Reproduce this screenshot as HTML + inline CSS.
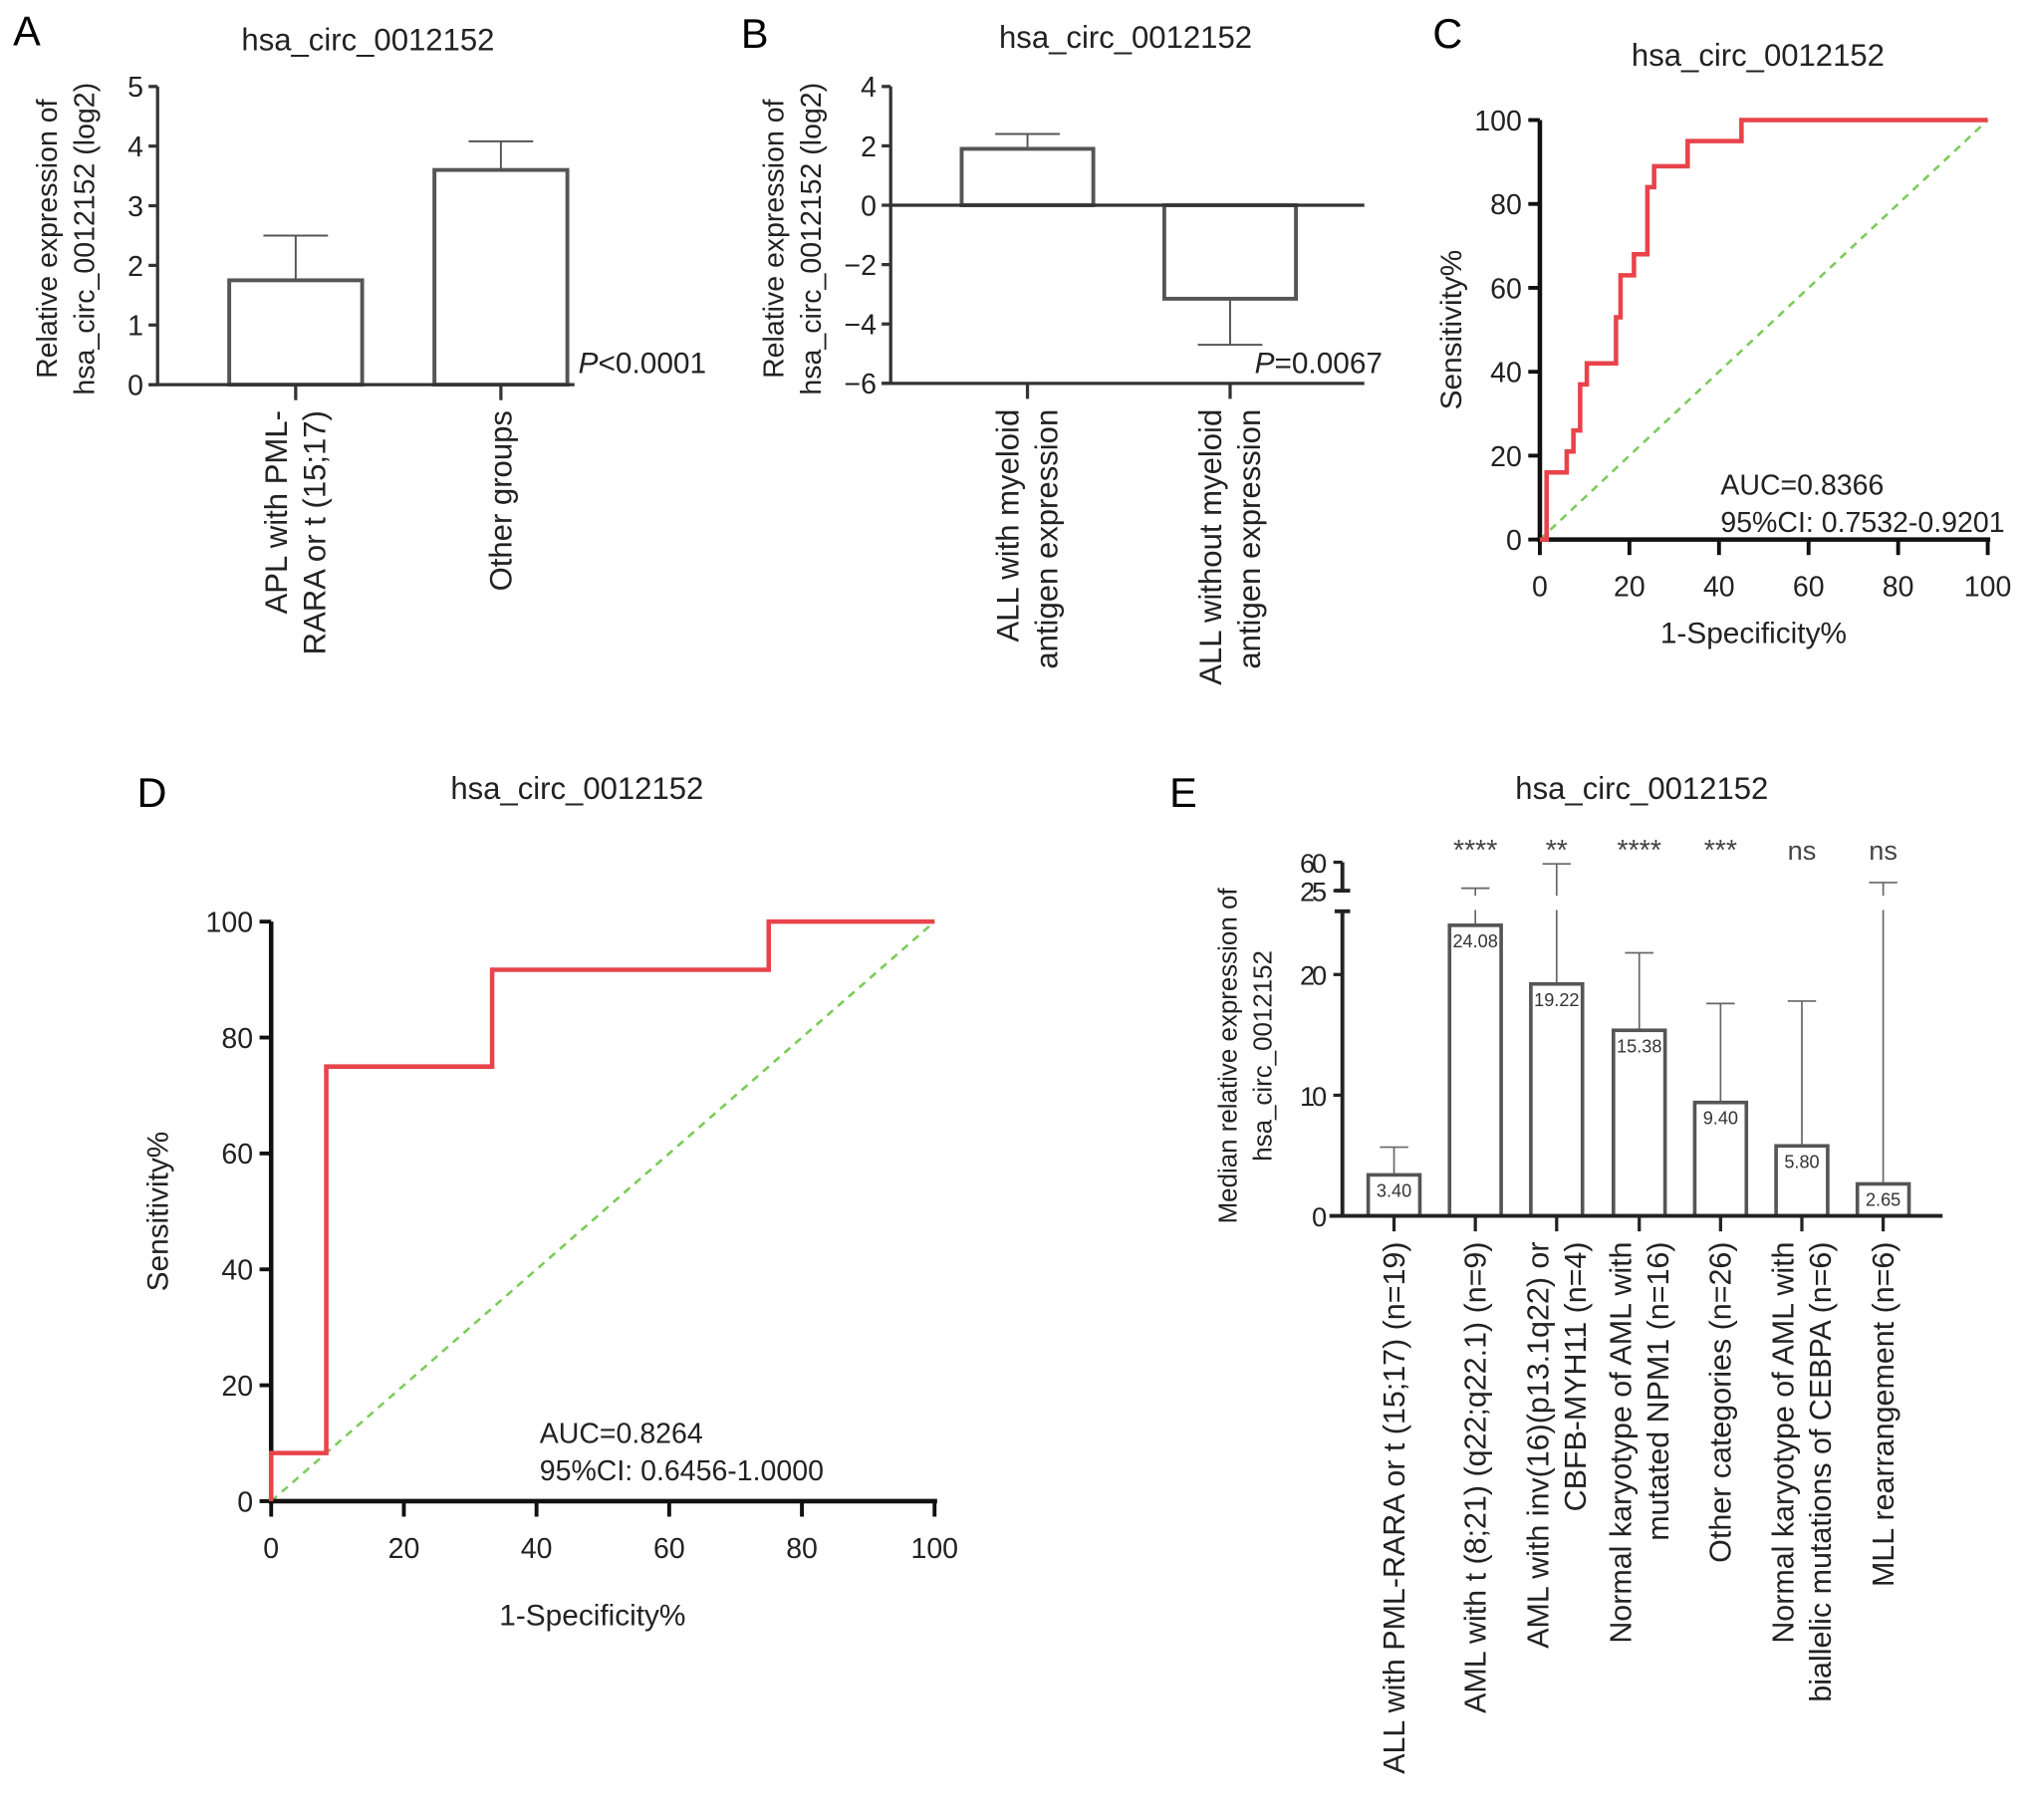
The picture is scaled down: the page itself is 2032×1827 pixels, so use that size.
<!DOCTYPE html>
<html><head><meta charset="utf-8">
<style>
html,body{margin:0;padding:0;background:#fff;}
svg{display:block;font-family:"Liberation Sans",Arial,sans-serif;}
</style></head>
<body>
<svg id="fig" width="2032" height="1827" viewBox="0 0 1568 1410" xmlns="http://www.w3.org/2000/svg"></svg>
<script>
// ---------- Data ----------
const aCategories = [["APL with PML-","RARA or t (15;17)"],["Other groups"]];
const aValues = [1.75, 3.6];
const aErrors = [2.5, 4.08];
const aTicks = [0,1,2,3,4,5];

const bCategories = [["ALL with myeloid","antigen expression"],["ALL without myeloid","antigen expression"]];
const bValues = [1.9, -3.15];
const bErrors = [2.4, -4.7];
const bTicks = [4,2,0,-2,-4,-6];
const bTickLabels = ["4","2","0","\u22122","\u22124","\u22126"];

const cRocX = [0,1.5,1.5,6,6,7.5,7.5,9,9,10.5,10.5,17,17,18,18,21,21,24,24,25.5,25.5,33,33,45,45,100];
const cRocY = [0,0,16,16,21,21,26,26,37,37,42,42,53,53,63,63,68,68,84,84,89,89,95,95,100,100];
const rocTicks = [0,20,40,60,80,100];

const dRocX = [0,0,8.3,8.3,33.3,33.3,75,75,100];
const dRocY = [0,8.3,8.3,75,75,91.7,91.7,100,100];

const eCategories = [
  ["ALL with PML-RARA or t (15;17) (n=19)"],
  ["AML with t (8;21) (q22;q22.1) (n=9)"],
  ["AML with inv(16)(p13.1q22) or","CBFB-MYH11 (n=4)"],
  ["Normal karyotype of AML with","mutated NPM1 (n=16)"],
  ["Other categories (n=26)"],
  ["Normal karyotype of AML with","biallelic mutations of CEBPA (n=6)"],
  ["MLL rearrangement (n=6)"]];
const eValues = [3.40, 24.08, 19.22, 15.38, 9.40, 5.80, 2.65];
const eLabels = ["3.40","24.08","19.22","15.38","9.40","5.80","2.65"];
const eErrors = [5.7, 28, 58, 21.8, 17.6, 17.8, 35];
const eSig = ["", "****", "**", "****", "***", "ns", "ns"];
const eTicksLow = [0,10,20];
const eTicksHigh = [25,60];

// ---------- helpers ----------
const NS="http://www.w3.org/2000/svg";
const svg=document.getElementById('fig');
function el(tag, attrs, parent){
  const e=document.createElementNS(NS,tag);
  for(const k in attrs) e.setAttribute(k,attrs[k]);
  (parent||svg).appendChild(e); return e;
}
function txt(s, attrs, parent){ const t=el('text',attrs,parent); t.textContent=s; return t; }
function line(x1,y1,x2,y2,stroke,w,parent){ return el('line',{x1,y1,x2,y2,stroke,'stroke-width':w},parent); }
function group(name){ const g=el('g',{});   return g; }

// ---------- Panel A ----------
(function(){
  const g=group('panel-a');
  const yA=v=>298-(v/5)*231;
  const bx=[229,388], bw=103;
  const L=txt('A',{x:10,y:35,'font-size':32},g);  
  const T=txt('hsa_circ_0012152',{x:285,y:39,'font-size':24,'text-anchor':'middle',fill:'#222'},g);  
  aValues.forEach((v,i)=>{
    const eb=line(bx[i],yA(v),bx[i],yA(aErrors[i]),'#555',1.5,g);  
    line(bx[i]-25,yA(aErrors[i]),bx[i]+25,yA(aErrors[i]),'#555',1.5,g);
    const r=el('rect',{x:bx[i]-bw/2,y:yA(v),width:bw,height:yA(0)-yA(v),fill:'#fff',stroke:'#555','stroke-width':3},g);
     
    line(bx[i],298,bx[i],310,'#333',2.5,g);
    aCategories[i].forEach((s,j)=>{
      const n=aCategories[i].length, x=bx[i]-(n-1)*15+j*30+8;
      const t=txt(s,{x:0,y:0,'font-size':24,'text-anchor':'end',fill:'#222',transform:`translate(${x},318) rotate(-90)`},g);
       
    });
  });
  line(122,67,122,299,'#333',2.5,g);
  line(115,298,445,298,'#333',2.5,g);
  aTicks.forEach(v=>{ line(115,yA(v),122,yA(v),'#333',2.5,g);
    const t=txt(String(v),{x:111,y:yA(v)+8,'font-size':22,'text-anchor':'end',fill:'#222'},g);  });
  const yl=txt('Relative expression of',{x:0,y:0,'font-size':22,'text-anchor':'middle',fill:'#222',transform:'translate(44,185) rotate(-90)'},g);
   
  txt('hsa_circ_0012152 (log2)',{x:0,y:0,'font-size':22,'text-anchor':'middle',fill:'#222',transform:'translate(73,185) rotate(-90)'},g);
  const p=el('text',{x:448,y:289,'font-size':23,fill:'#222'},g); p.innerHTML='<tspan font-style="italic">P</tspan>&lt;0.0001';
   
})();

// ---------- Panel B ----------
(function(){
  const g=group('panel-b');
  const yB=v=>159-v*23;
  const bx=[796,953], bw=102;
  const L=txt('B',{x:574,y:37,'font-size':32},g);  
  const T=txt('hsa_circ_0012152',{x:872,y:37,'font-size':24,'text-anchor':'middle',fill:'#222'},g);  
  bValues.forEach((v,i)=>{
    const eb=line(bx[i],yB(v),bx[i],yB(bErrors[i]),'#555',1.5,g);  
    line(bx[i]-25,yB(bErrors[i]),bx[i]+25,yB(bErrors[i]),'#555',1.5,g);
    const top=Math.min(yB(v),yB(0)), h=Math.abs(yB(v)-yB(0));
    const r=el('rect',{x:bx[i]-bw/2,y:top,width:bw,height:h,fill:'#fff',stroke:'#555','stroke-width':3},g);
     
    line(bx[i],297,bx[i],309,'#333',2.5,g);
    bCategories[i].forEach((s,j)=>{
      const x=bx[i]-15+j*30+8;
      const t=txt(s,{x:0,y:0,'font-size':24,'text-anchor':'end',fill:'#222',transform:`translate(${x},317) rotate(-90)`},g);
       
    });
  });
  line(690,67,690,298,'#333',2.5,g);
  line(690,159,1057,159,'#333',2.5,g);
  line(683,297,1057,297,'#333',2.5,g);
  bTicks.forEach((v,i)=>{ line(683,yB(v),690,yB(v),'#333',2.5,g);
    const t=txt(bTickLabels[i],{x:679,y:yB(v)+8,'font-size':22,'text-anchor':'end',fill:'#222'},g);  });
  const yl=txt('Relative expression of',{x:0,y:0,'font-size':22,'text-anchor':'middle',fill:'#222',transform:'translate(607,185) rotate(-90)'},g);
   
  txt('hsa_circ_0012152 (log2)',{x:0,y:0,'font-size':22,'text-anchor':'middle',fill:'#222',transform:'translate(636,185) rotate(-90)'},g);
  const p=el('text',{x:972,y:289,'font-size':23,fill:'#222'},g); p.innerHTML='<tspan font-style="italic">P</tspan>=0.0067';
   
})();

// ---------- ROC panels ----------
function roc(name, letter, lx, ly, x0, x1, y0, y1, xs, ys, title, tx, ty, auc, ax, ay, fs, xlab, ylabX){
  const g=group(name);
  const X=v=>x0+(x1-x0)*v/100, Y=v=>y0-(y0-y1)*v/100;
  const L=txt(letter,{x:lx,y:ly,'font-size':32},g);  
  const T=txt(title,{x:tx,y:ty,'font-size':24,'text-anchor':'middle',fill:'#222'},g);  
  const ref=line(X(0),Y(0),X(100),Y(100),'#7ccb5a',2,g); ref.setAttribute('stroke-dasharray','6,5');
   
  line(x0,y1,x0,y0+2,'#111',3.5,g);
  line(x0-2,y0,x1+2,y0,'#111',3.5,g);
  rocTicks.forEach(v=>{
    line(x0-9,Y(v),x0,Y(v),'#111',3,g); line(X(v),y0,X(v),y0+12,'#111',3,g);
    const a=txt(String(v),{x:x0-14,y:Y(v)+8,'font-size':fs,'text-anchor':'end',fill:'#222'},g);  
    const b=txt(String(v),{x:X(v),y:y0+44,'font-size':fs,'text-anchor':'middle',fill:'#222'},g);  
  });
  const pts=xs.map((x,i)=>X(x).toFixed(1)+','+Y(ys[i]).toFixed(1)).join(' ');
  const pl=el('polyline',{points:pts,fill:'none',stroke:'#e8434a','stroke-width':3.5},g);
   
  const xl=txt('1-Specificity%',{x:(x0+x1)/2-8,y:y0+xlab,'font-size':23,'text-anchor':'middle',fill:'#222'},g);  
  const yl=txt('Sensitivity%',{x:0,y:0,'font-size':23,'text-anchor':'middle',fill:'#222',transform:`translate(${ylabX},${(y0+y1)/2}) rotate(-90)`},g);  
  const a1=txt(auc[0],{x:ax,y:ay,'font-size':22,fill:'#222'},g);  
  const a2=txt(auc[1],{x:ax,y:ay+29,'font-size':22,fill:'#222'},g);  
}
roc('panel-c','C',1110,37,1193,1540,418,93,cRocX,cRocY,'hsa_circ_0012152',1362,51,['AUC=0.8366','95%CI: 0.7532-0.9201'],1333,383,22,80,1132);
roc('panel-d','D',106,625,210,724,1163,714,dRocX,dRocY,'hsa_circ_0012152',447,619,['AUC=0.8264','95%CI: 0.6456-1.0000'],418,1118,22,96,130);

// ---------- Panel E ----------
(function(){
  const g=group('panel-e');
  const yLow=v=>942-v*9.35;
  const yHigh=v=>690-(v-25)*(22/35);
  const Y=v=>v<=25.3?yLow(v):yHigh(v);
  const bx=[1080,1143,1206,1270,1333,1396,1459], bw=40;
  const L=txt('E',{x:906,y:625,'font-size':32},g);  
  const T=txt('hsa_circ_0012152',{x:1272,y:619,'font-size':24,'text-anchor':'middle',fill:'#222'},g);  
  eValues.forEach((v,i)=>{
    const e=eErrors[i], x=bx[i];
    if(e>25.3){
      const l1=line(x,Y(v),x,705,'#666',1.3,g);  
      line(x,yHigh(25)+4,x,yHigh(e),'#666',1.3,g);
    } else {
      const l1=line(x,Y(v),x,Y(e),'#666',1.3,g);  
    }
    line(x-11,Y(e),x+11,Y(e),'#666',1.3,g);
    const r=el('rect',{x:x-bw/2,y:Y(v),width:bw,height:942-Y(v),fill:'#fff',stroke:'#555','stroke-width':2.8},g);
     
    const vl=txt(eLabels[i],{x:x,y:Y(v)+17,'font-size':14,'text-anchor':'middle',fill:'#333'},g);
     
    if(eSig[i]){ const s=txt(eSig[i],{x:x,y:666,'font-size':eSig[i]==='ns'?21:22,'text-anchor':'middle',fill:'#444'},g);   }
    line(x,942,x,954,'#222',2.5,g);
    eCategories[i].forEach((s,j)=>{
      const n=eCategories[i].length, xx=x-(n-1)*14.5+j*29+8;
      const t=txt(s,{x:0,y:0,'font-size':23.5,'text-anchor':'end',fill:'#222',transform:`translate(${xx},962) rotate(-90)`},g);
       
    });
  });
  line(1040,706,1040,943,'#222',3,g);
  line(1034,706,1046,706,'#222',3,g);
  line(1040,668,1040,690,'#222',3,g);
  line(1034,690,1046,690,'#222',3,g);
  line(1030,942,1505,942,'#222',3,g);
  eTicksLow.forEach(v=>{ line(1033,yLow(v),1040,yLow(v),'#222',2.5,g);
    const t=txt(String(v),{x:1028,y:yLow(v)+8,'font-size':21,'text-anchor':'end',fill:'#222','textLength':v?21:11},g);  });
  eTicksHigh.forEach(v=>{ line(1033,yHigh(v),1040,yHigh(v),'#222',2.5,g);
    const t=txt(String(v),{x:1028,y:yHigh(v)+8,'font-size':21,'text-anchor':'end',fill:'#222',textLength:21},g);  });
  const yl=txt('Median relative expression of',{x:0,y:0,'font-size':20,'text-anchor':'middle',fill:'#222',transform:'translate(958,818) rotate(-90)'},g);
   
  txt('hsa_circ_0012152',{x:0,y:0,'font-size':20,'text-anchor':'middle',fill:'#222',transform:'translate(985,818) rotate(-90)'},g);
})();
</script>
</body></html>
